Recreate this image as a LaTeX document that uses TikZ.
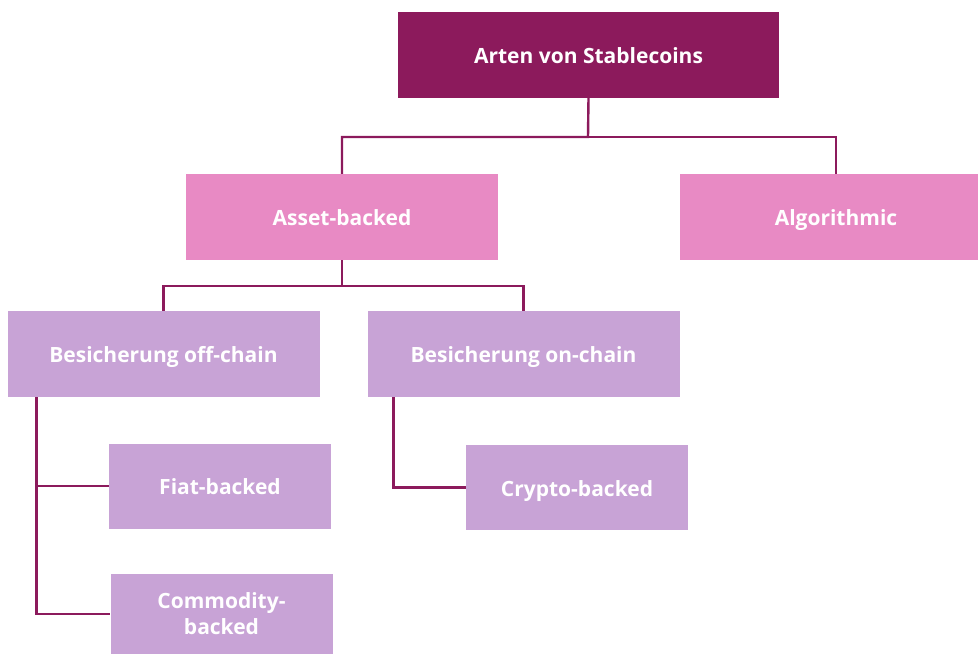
\documentclass[tikz,border=0pt]{standalone}
\usepackage{fontspec}
\setmainfont{Open Sans}
\definecolor{stbdark}{HTML}{8C1A5C}
\definecolor{stbpink}{HTML}{E88AC4}
\definecolor{stblilac}{HTML}{C8A3D6}
\tikzset{
  box/.style={inner sep=0pt, text=white, font=\fontsize{21}{26}\selectfont\bfseries, align=center},
  oneline/.style={text height=18pt, text depth=1pt},
  rootbox/.style={box, oneline, fill=stbdark, minimum width=381pt, minimum height=86pt},
  mainbox/.style={box, oneline, fill=stbpink, minimum width=312pt, minimum height=86pt},
  subbox/.style={box, oneline, fill=stblilac, minimum width=312pt, minimum height=86pt},
  leafbox/.style={box, fill=stblilac, minimum width=222pt, minimum height=85pt},
  link/.style={draw=stbdark, line width=2.4pt}
}
\begin{document}
\begin{tikzpicture}[x=1pt, y=-1pt]
\useasboundingbox (0,0) rectangle (978,655);
% boxes
\node[rootbox] (root) at (588.5,55) {Arten von Stablecoins};
\node[mainbox] (asset) at (342,217) {Asset-backed};
\node[mainbox] (algo) at (836,217) {Algorithmic};
\node[subbox] (offchain) at (163.5,354) {Besicherung off-chain};
\node[subbox] (onchain) at (523.5,354) {Besicherung on-chain};
\node[leafbox, oneline] (fiat) at (220,486) {Fiat-backed};
\node[leafbox, minimum height=80pt] (commodity) at (221.5,614) {Commodity-\\backed};
\node[leafbox, oneline] (crypto) at (577,487.5) {Crypto-backed};
% connectors
\coordinate (split1) at (588,137);
\coordinate (split2) at (342,286);
\draw[link] (root.south) -- (split1) -| (asset.north);
\draw[link] (split1) -| (algo.north);
\draw[link] (asset.south) -- (split2) -| (offchain.north);
\draw[link] (split2) -| (onchain.north);
\draw[link] ([xshift=29pt]offchain.south west) |- (fiat.west);
\draw[link] ([xshift=29pt]offchain.south west) |- (commodity.west);
\draw[link] ([xshift=26pt]onchain.south west) |- (crypto.west);
\end{tikzpicture}
\end{document}
